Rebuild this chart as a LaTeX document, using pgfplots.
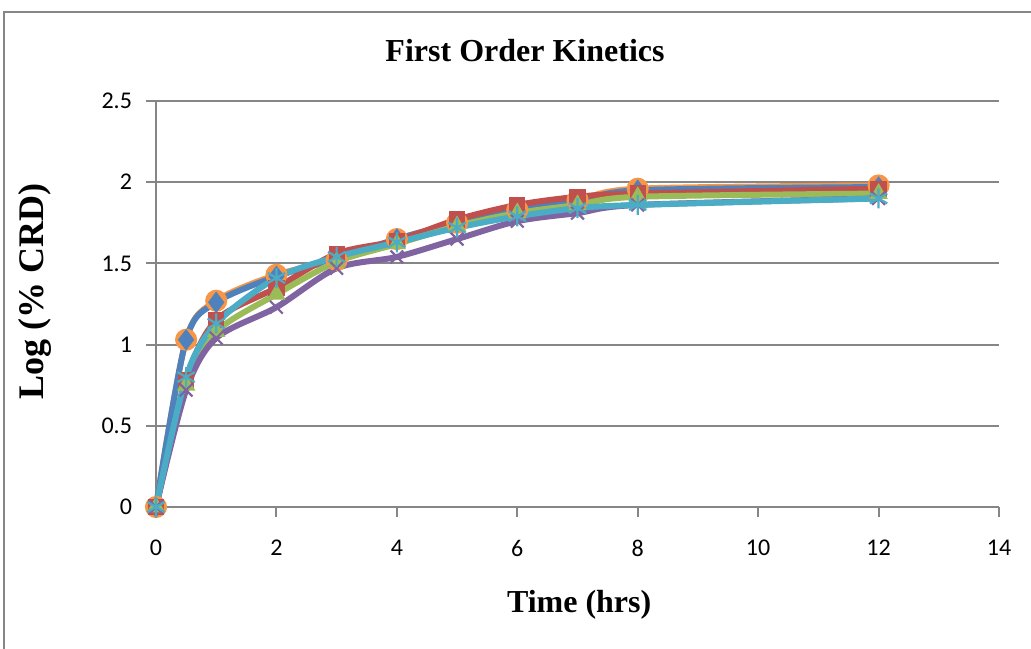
\documentclass[border=0pt]{standalone}
\usepackage{fontspec}
\setmainfont{Liberation Serif}
\newfontfamily\calibri{Carlito}
\usepackage{pgfplots}
\pgfplotsset{compat=1.18}

\definecolor{xlblue}{HTML}{4F81BD}
\definecolor{xlred}{HTML}{C0504D}
\definecolor{xlgreen}{HTML}{9BBB59}
\definecolor{xlpurple}{HTML}{8064A2}
\definecolor{xlcyan}{HTML}{4BACC6}
\definecolor{xlorange}{HTML}{F79646}
\definecolor{xlgrid}{HTML}{868686}

\begin{document}
\begin{tikzpicture}[x=1pt,y=1pt]
\useasboundingbox (0,0) rectangle (515.5,324);
% chart area frame
\draw[xlgrid, line width=1pt] (2,-20) rectangle (540,318);

\node[anchor=base, font=\bfseries\fontsize{16}{19}\selectfont] at (262.5,293) {First Order Kinetics};

\begin{axis}[
  at={(78pt,70.5pt)}, anchor=south west,
  scale only axis, width=421.5pt, height=203pt,
  xmin=0, xmax=14, ymin=0, ymax=2.5,
  xtick={0,2,...,14}, ytick={0,0.5,1,1.5,2,2.5},
  axis x line=bottom, axis y line=left,
  axis line style={-, draw=xlgrid, line width=1pt},
  ymajorgrids, grid style={draw=xlgrid, line width=1pt},
  major tick style={draw=xlgrid, line width=1pt},
  tick align=outside, major tick length=5pt,
  ticklabel style={font=\calibri\fontsize{12}{14}\selectfont},
  xticklabel style={yshift=-8pt},
  yticklabel style={xshift=-3.5pt},
  /pgf/number format/assume math mode=true,
  xlabel={Time (hrs)}, ylabel={Log (\% CRD)},
  xlabel style={font=\bfseries\fontsize{16}{19}\selectfont, at={(axis description cs:0.502,-0.241)}, anchor=center},
  ylabel style={font=\bfseries\fontsize{18}{21}\selectfont, at={(axis description cs:-0.1435,0.53)}, anchor=center},
  every axis plot/.append style={smooth, line width=3pt},
  clip=false,
]
\addplot[xlorange, mark=*, mark size=4pt, mark options={fill=xlorange, draw=xlorange}] coordinates {
(0,0) (0.5,1.03) (1,1.27) (2,1.43) (3,1.52) (4,1.65) (5,1.75) (6,1.83) (7,1.89) (8,1.96) (12,1.98)};
\addplot[xlblue, mark=diamond*, mark size=5pt, mark options={fill=xlblue, draw=xlblue, line width=0.5pt}] coordinates {
(0,0) (0.5,1.03) (1,1.26) (2,1.42) (3,1.53) (4,1.65) (5,1.75) (6,1.83) (7,1.88) (8,1.95) (12,1.97)};
\addplot[xlred, mark=square*, mark size=3.8pt, mark options={fill=xlred, draw=xlred, line width=0.5pt}] coordinates {
(0,0) (0.5,0.78) (1,1.15) (2,1.35) (3,1.56) (4,1.64) (5,1.77) (6,1.86) (7,1.91) (8,1.93) (12,1.96)};
\addplot[xlgreen, mark=triangle*, mark size=4.8pt, mark options={fill=xlgreen, draw=xlgreen, line width=0.5pt}] coordinates {
(0,0) (0.5,0.75) (1,1.08) (2,1.31) (3,1.51) (4,1.62) (5,1.73) (6,1.81) (7,1.86) (8,1.91) (12,1.93)};
\addplot[xlpurple, mark=x, mark size=4.5pt, mark options={draw=xlpurple, line width=1.1pt}] coordinates {
(0,0) (0.5,0.72) (1,1.04) (2,1.23) (3,1.47) (4,1.54) (5,1.65) (6,1.76) (7,1.81) (8,1.86) (12,1.90)};
\addplot[xlcyan, mark=asterisk, mark size=5pt, mark options={draw=xlcyan, line width=1.1pt}] coordinates {
(0,0) (0.5,0.80) (1,1.13) (2,1.41) (3,1.54) (4,1.63) (5,1.72) (6,1.79) (7,1.84) (8,1.86) (12,1.90)};
\end{axis}
\end{tikzpicture}
\end{document}
